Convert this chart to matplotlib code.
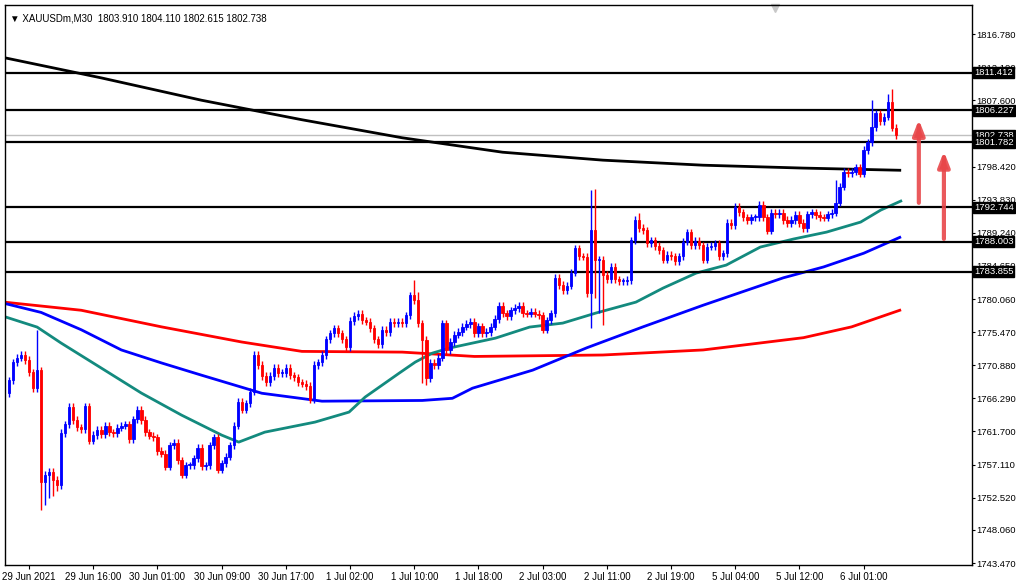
import matplotlib
matplotlib.use("Agg")
import matplotlib.pyplot as plt
import matplotlib.transforms as mtransforms
import numpy as np

plt.rcParams['font.family'] = ['Liberation Sans', 'DejaVu Sans']

closes = [1768.8,1771.3,1771.9,1772.3,1771.6,1769.9,1767.7,1770.2,1754.7,1755.7,1756.1,1755.0,1754.3,
 1761.5,1762.7,1765.1,1763.3,1762.3,1762.0,1765.2,1760.4,1761.2,1761.9,1761.3,1762.5,1761.6,1761.5,1762.2,1762.5,1762.7,1760.6,1763.4,1764.7,1763.3,1761.6,1761.1,1760.9,1759.0,1758.6,1756.8,1759.8,1760.1,1757.7,1755.7,1757.0,1757.0,1758.0,1759.4,1756.9,1757.0,1759.8,1760.9,1756.4,1757.3,1758.2,1759.8,1762.5,
 1765.8,1764.7,1765.6,1767.2,1772.3,1770.9,1769.4,1768.5,1769.4,1770.5,1769.8,1769.8,1770.5,1769.5,1769.2,1768.5,1768.3,1768.0,1766.1,1770.9,1771.3,1772.3,1774.5,1775.3,1776.0,1775.3,1774.5,1773.4,1777.0,1777.7,1778.0,1777.1,1776.9,1776.0,1774.5,1773.8,1775.8,1775.5,1776.9,1776.7,1776.9,1776.7,1777.8,1780.6,1779.9,1776.7,1774.4,1769.1,1771.2,1770.9,1771.9,1776.7,1773.0,1774.1,1775.1,1775.5,1776.2,
 1776.6,1776.9,1775.3,1776.3,1775.3,1775.5,1776.2,1777.3,1779.1,1778.1,1777.7,1778.5,1778.8,1779.1,1778.1,1778.0,1778.3,1778.0,1777.8,1775.8,1777.1,1778.1,1783.0,1782.0,1781.3,1781.9,1783.7,1787.1,1786.0,1785.9,1780.9,1789.6,1785.5,1785.5,1783.4,1782.8,1784.5,1782.8,1782.5,1782.5,1782.7,1788.2,1791.0,1789.9,1789.6,1787.8,1788.2,1787.4,1786.8,1785.5,1786.2,1786.0,1785.3,1786.0,1788.0,1789.3,1787.5,1788.1,
 1787.5,1785.5,1787.3,1787.4,1787.8,1786.0,1786.4,1790.6,1790.3,1792.8,1792.1,1791.4,1791.0,1791.4,1791.4,1793.1,1791.4,1789.5,1792.0,1791.8,1792.0,1791.0,1790.6,1791.0,1791.7,1790.6,1789.9,1791.8,1792.1,1791.7,1791.4,1791.3,1791.8,1792.0,1793.4,1795.6,1797.7,1797.5,1797.7,1798.3,1797.4,1800.7,1801.8,1803.9,1805.8,1804.7,1805.3,1807.4,1803.8,1802.738]
first_open = 1767.0
spike_high = {7: 1775.8, 8: 1770.6, 100: 1781.0, 101: 1782.7, 102: 1781.0, 145: 1795.2, 146: 1795.3, 157: 1792.0, 206: 1796.5, 215: 1807.6, 219: 1808.5, 220: 1809.2}
spike_low = {8: 1750.8, 9: 1751.5, 10: 1752.5, 11: 1752.8, 12: 1753.5, 103: 1768.4, 104: 1768.2, 145: 1776.0, 146: 1780.2, 147: 1778.1, 148: 1776.5}

black_i = [-0.75,23,48,73,98,123,148,173,198,222]
black_v = [1813.45,1810.7,1807.6,1804.9,1802.4,1800.4,1799.3,1798.6,1798.2,1797.9]
red_i = [-0.75,18,38,58,73,98,116,148,173,198,210,222]
red_v = [1779.6,1778.5,1776.2,1774.1,1772.8,1772.7,1772.1,1772.3,1773.0,1774.7,1776.2,1778.5]
blue_i = [-0.75,8,18,28,38,48,57,63,78,103,110.5,115.5,130.5,144,158,173,193,203,213,222]
blue_v = [1779.4,1778.2,1775.8,1773.0,1771.2,1769.5,1768.0,1767.0,1765.9,1766.0,1766.3,1767.7,1770.2,1773.3,1776.2,1779.2,1783.0,1784.5,1786.4,1788.6]
teal_i = [-0.75,7,13,23,33,43,53,57.25,63.75,76.25,84.75,88.75,93,97.25,101.25,105.5,109.75,115.5,121.25,129.75,138,146.25,156.25,163,171.25,178.75,187.25,195.5,203.75,212.25,217.25,222.25]
teal_v = [1777.55,1776.17,1773.95,1770.49,1767.02,1763.97,1761.20,1760.23,1761.61,1763.00,1764.39,1766.47,1768.13,1769.79,1771.32,1772.56,1773.26,1773.95,1774.64,1776.17,1776.72,1778.11,1779.63,1781.57,1783.65,1784.76,1787.26,1788.37,1789.33,1790.72,1792.38,1793.63]

levels = [1811.412, 1806.227, 1801.782, 1792.744, 1788.003, 1783.855]
last_price = 1802.738
ytick_vals = [1816.780,1812.190,1807.600,1803.010,1798.420,1793.830,1789.240,1784.650,1780.060,1775.470,1770.880,1766.290,1761.700,1757.110,1752.520,1748.060,1743.470]
xtick_labels = ["29 Jun 2021","29 Jun 16:00","30 Jun 01:00","30 Jun 09:00","30 Jun 17:00","1 Jul 02:00","1 Jul 10:00","1 Jul 18:00","2 Jul 03:00","2 Jul 11:00","2 Jul 19:00","5 Jul 04:00","5 Jul 12:00","6 Jul 01:00"]
title = "XAUUSDm,M30  1803.910 1804.110 1802.615 1802.738"

fig = plt.figure(figsize=(10.16, 5.88), dpi=100)
ax = fig.add_axes([5/1016, 23/588, 967/1016, 560/588])
n = len(closes)
opens = [first_open] + closes[:-1]
for i in range(n):
    o, c = opens[i], closes[i]
    col = "#0000ff" if c >= o else "#ff0000"
    hi = spike_high.get(i, max(o, c) + 0.5)
    lo = spike_low.get(i, min(o, c) - 0.5)
    ax.vlines(i, lo, hi, color=col, lw=1, zorder=3)
    h = max(abs(c - o), 0.15)
    ax.bar(i, h, bottom=min(o, c), width=0.6, color=col, edgecolor=col, lw=0.6, zorder=4)

ax.plot(black_i, black_v, color="black", lw=2, zorder=2)
ax.plot(red_i, red_v, color="#ff0000", lw=2, zorder=2)
ax.plot(blue_i, blue_v, color="#0000ff", lw=2, zorder=2)
ax.plot(teal_i, teal_v, color="#138a7e", lw=2, zorder=2)
ax.axhline(last_price, color="#c0c0c0", lw=1, zorder=1)
for lv in levels:
    ax.axhline(lv, color="black", lw=1.6, zorder=2)

ax.annotate("", xy=(226.75, 1805.3), xytext=(226.75, 1793.0),
            arrowprops=dict(arrowstyle="-|>,head_width=0.35,head_length=0.9", color="#e8474a", lw=3, alpha=0.9))
ax.annotate("", xy=(233.0, 1800.9), xytext=(233.0, 1788.0),
            arrowprops=dict(arrowstyle="-|>,head_width=0.35,head_length=0.9", color="#e8474a", lw=3, alpha=0.9))

ax.set_xlim(-1.0, n - 1 + 19)
ax.set_ylim(1743.2, 1820.8)
ax.yaxis.tick_right()
ax.set_yticks(ytick_vals)
ax.set_yticklabels([f"{v:.3f}" for v in ytick_vals], fontsize=6.8)
ax.set_xticks([5 + 16 * k for k in range(len(xtick_labels))])
ax.set_xticklabels(xtick_labels, fontsize=7)
ax.tick_params(axis="y", length=2, width=0.8, pad=1)
ax.tick_params(axis="x", length=3, width=0.8, pad=2)
for s in ax.spines.values():
    s.set_linewidth(1)

tr = mtransforms.blended_transform_factory(ax.transAxes, ax.transData)
for lv in [last_price] + levels:
    ax.text(1.002, lv, f"{lv:.3f}", transform=tr, fontsize=6.8, color="white", va="center", ha="left",
            bbox=dict(boxstyle="square,pad=0.1", fc="black", ec="black"), zorder=10, clip_on=False)

ax.text(0.005, 0.985, "▼ " + title, transform=ax.transAxes, fontsize=7, va="top", ha="left")
ax.plot([0.796], [0.995], marker="v", color="#c8c8c8", markersize=6, transform=ax.transAxes, clip_on=False)

fig.savefig("out.png", dpi=100)
